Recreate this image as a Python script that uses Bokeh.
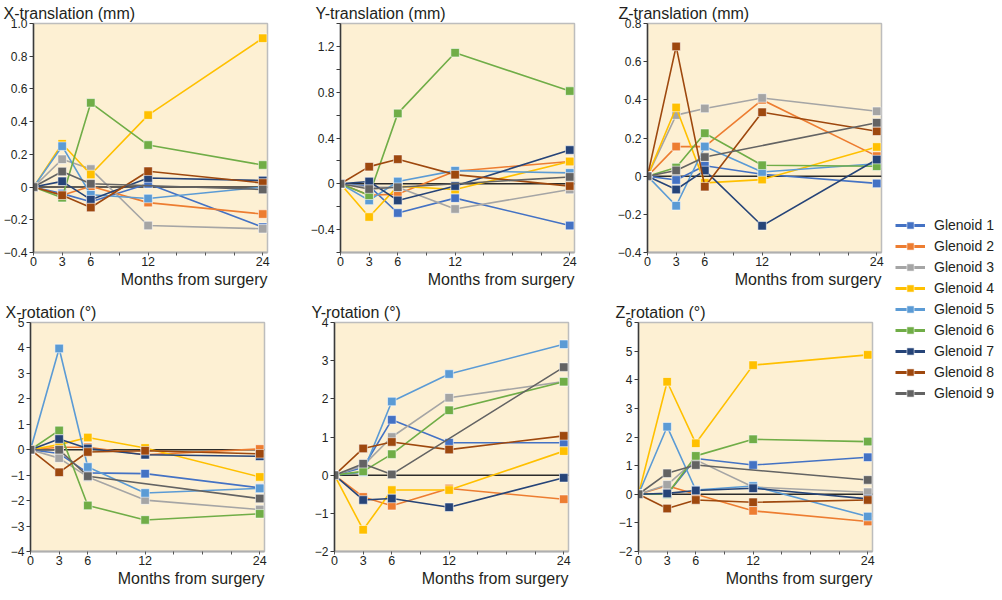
from bokeh.plotting import figure
from bokeh.models import (FixedTicker, Span, Title, Legend, LegendItem, Range1d,
                          CustomJSTickFormatter, ColumnDataSource)
from bokeh.layouts import row, column
from bokeh.embed import file_html
from bokeh.resources import INLINE
import numpy as np

# ---------------- data ----------------
months = [0, 3, 6, 12, 24]
names = ["Glenoid 1", "Glenoid 2", "Glenoid 3", "Glenoid 4", "Glenoid 5",
         "Glenoid 6", "Glenoid 7", "Glenoid 8", "Glenoid 9"]
colors = ["#4472C4", "#ED7D31", "#A5A5A5", "#FFC000", "#5B9BD5",
          "#70AD47", "#264478", "#9E480E", "#636363"]
nan = float("nan")

x_translation = [
    [0, -0.04, -0.09, 0.02, -0.245],
    [0, -0.05, 0.005, -0.095, -0.165],
    [0, 0.17, 0.11, -0.235, -0.255],
    [0, 0.265, 0.077, 0.44, 0.91],
    [0, 0.25, -0.047, -0.07, 0.0],
    [0, -0.065, 0.515, 0.257, 0.135],
    [0, 0.035, -0.077, 0.055, 0.04],
    [0, -0.05, -0.125, 0.097, 0.025],
    [0, 0.095, 0.02, nan, -0.015],
]
y_translation = [
    [0, -0.02, -0.255, -0.125, -0.365],
    [0, -0.1, -0.09, 0.11, 0.195],
    [0, -0.03, -0.03, -0.22, -0.05],
    [0, -0.29, -0.02, -0.05, 0.195],
    [0, -0.145, 0.02, 0.115, 0.095],
    [0, -0.1, 0.615, 1.145, 0.81],
    [0, 0.02, -0.145, -0.02, 0.295],
    [0, 0.15, 0.215, 0.08, -0.02],
    [0, -0.046, -0.03, nan, 0.06],
]
z_translation = [
    [0, -0.02, 0.055, 0.01, -0.038],
    [0, 0.155, 0.155, 0.4, 0.105],
    [0, 0.32, 0.355, 0.41, 0.34],
    [0, 0.36, -0.035, -0.018, 0.153],
    [0, -0.155, 0.155, 0.022, 0.065],
    [0, 0.045, 0.225, 0.057, 0.052],
    [0, -0.07, 0.03, -0.26, 0.087],
    [0, 0.68, -0.055, 0.335, 0.235],
    [0, 0.03, 0.1, nan, 0.28],
]
x_rotation = [
    [0, -0.15, -0.91, -0.94, -1.5],
    [0, 0.1, 0.1, -0.2, 0.03],
    [0, -0.33, -1.07, -1.98, -2.35],
    [0, 0.2, 0.48, 0.07, -1.07],
    [0, 3.98, -0.68, -1.7, -1.52],
    [0, 0.76, -2.19, -2.76, -2.52],
    [0, 0.42, 0.05, -0.2, -0.26],
    [0, -0.89, -0.09, -0.04, -0.16],
    [0, 0.0, -1.04, nan, -1.92],
]
y_rotation = [
    [0, 0.2, 1.45, 0.85, 0.85],
    [0, -0.57, -0.8, -0.35, -0.63],
    [0, 0.25, 1.0, 2.03, 2.45],
    [0, -1.43, -0.39, -0.39, 0.63],
    [0, 0.08, 1.93, 2.65, 3.43],
    [0, 0.1, 0.55, 1.7, 2.45],
    [0, -0.65, -0.61, -0.84, -0.07],
    [0, 0.70, 0.87, 0.67, 1.03],
    [0, 0.30, 0.02, nan, 2.83],
]
z_rotation = [
    [0, 0.0, 1.25, 1.02, 1.29],
    [0, 0.3, 0.0, -0.58, -0.95],
    [0, 0.33, 1.2, 0.25, 0.07],
    [0, 3.93, 1.78, 4.51, 4.87],
    [0, 2.36, 0.15, 0.29, -0.78],
    [0, 0.0, 1.34, 1.92, 1.84],
    [0, 0.03, 0.13, 0.21, -0.16],
    [0, -0.5, -0.2, -0.28, -0.2],
    [0, 0.73, 1.02, nan, 0.5],
]

x_ticks = [0, 3, 6, 9, 12, 15, 18, 21, 24]
x_tick_labels = ["0", "3", "6", "", "12", "", "", "", "24"]

xt_ticks = [-0.4, -0.2, 0, 0.2, 0.4, 0.6, 0.8, 1.0]
xt_labels = ["\u22120.4", "\u22120.2", "0", "0.2", "0.4", "0.6", "0.8", "1.0"]
yt_ticks = [-0.6, -0.4, -0.2, 0, 0.2, 0.4, 0.6, 0.8, 1.0, 1.2, 1.4]
yt_labels = ["", "\u22120.4", "", "0", "", "0.4", "", "0.8", "", "1.2", ""]
zt_ticks = [-0.4, -0.2, 0, 0.2, 0.4, 0.6, 0.8]
zt_labels = ["\u22120.4", "\u22120.2", "0", "0.2", "0.4", "0.6", "0.8"]
xr_ticks = [-4, -3, -2, -1, 0, 1, 2, 3, 4, 5]
xr_labels = ["\u22124", "\u22123", "\u22122", "\u22121", "0", "1", "2", "3", "4", "5"]
yr_ticks = [-2, -1, 0, 1, 2, 3, 4]
yr_labels = ["\u22122", "\u22121", "0", "1", "2", "3", "4"]
zr_ticks = [-2, -1, 0, 1, 2, 3, 4, 5, 6]
zr_labels = ["\u22122", "\u22121", "0", "1", "2", "3", "4", "5", "6"]

# ---------------- styling ----------------
FONT = "Liberation Sans"
TXT = "#231F20"
BG = "#FDF0D3"
FW = 234
FH = 229


def lookup_formatter(tvals, tlabels):
    return CustomJSTickFormatter(args=dict(tv=tvals, tl=tlabels), code="""
        for (let i = 0; i < tv.length; i++) {
            if (Math.abs(tick - tv[i]) < 1e-9) { return tl[i]; }
        }
        return "";
    """)


def panel(title, data, yticks, ylabels, title_offset, top, bottom, right):
    p = figure(frame_width=FW, frame_height=FH,
               x_range=Range1d(0, 24.5), y_range=Range1d(yticks[0], yticks[-1]),
               output_backend="svg", toolbar_location=None,
               min_border_left=30, min_border_right=right,
               min_border_top=top, min_border_bottom=bottom)
    p.background_fill_color = BG
    p.border_fill_color = "white"
    p.outline_line_color = "#BDBDBD"
    p.outline_line_width = 1.5
    p.grid.visible = False

    p.title.text = title
    p.title.text_font = FONT
    p.title.text_font_size = "16px"
    p.title.text_font_style = "normal"
    p.title.text_color = TXT
    p.title.align = "left"
    p.title.offset = title_offset
    p.title.standoff = 4

    xa = p.xaxis[0]
    xa.ticker = FixedTicker(ticks=x_ticks)
    xa.formatter = lookup_formatter(x_ticks, x_tick_labels)
    xa.axis_line_color = "#AFAFAF"
    xa.axis_line_width = 2
    xa.major_tick_line_color = "#555555"
    xa.major_tick_out = 3
    xa.major_tick_in = 0
    xa.minor_tick_line_color = None
    xa.major_label_standoff = 1
    xa.major_label_text_font = FONT
    xa.major_label_text_font_size = "12.5px"
    xa.major_label_text_color = TXT

    ya = p.yaxis[0]
    ya.ticker = FixedTicker(ticks=yticks)
    ya.formatter = lookup_formatter(yticks, ylabels)
    ya.axis_line_color = "#3A3A3A"
    ya.axis_line_width = 1.5
    ya.major_tick_line_color = "#3A3A3A"
    ya.major_tick_out = 4
    ya.major_tick_in = 0
    ya.minor_tick_line_color = None
    ya.major_label_standoff = 2
    ya.major_label_text_font = FONT
    ya.major_label_text_font_size = "12px"
    ya.major_label_text_color = TXT

    p.add_layout(Title(text="Months from surgery", align="right", text_font=FONT,
                       text_font_size="16px", text_font_style="normal",
                       text_color=TXT, standoff=0), "below")

    p.add_layout(Span(location=0, dimension="width", line_color="#2B2B2B",
                      line_width=1.5, level="underlay"))

    for vals, c in zip(data, colors):
        arr = np.array(vals, dtype=float)
        ok = ~np.isnan(arr)
        src = ColumnDataSource(dict(x=np.array(months, dtype=float)[ok], y=arr[ok]))
        p.line("x", "y", source=src, line_color=c, line_width=1.6)
        p.scatter("x", "y", source=src, marker="square", size=8.5,
                  fill_color=c, line_color="white", line_alpha=0.55, line_width=1)
    return p


p1 = panel("X-translation (mm)", x_translation, xt_ticks, xt_labels, -30, 20, 47, 40)
p2 = panel("Y-translation (mm)", y_translation, yt_ticks, yt_labels, -25, 20, 47, 40)
p3 = panel("Z-translation (mm)", z_translation, zt_ticks, zt_labels, -29, 20, 47, 8)
p4 = panel("X-rotation (\u00b0)", x_rotation, xr_ticks, xr_labels, -25, 22, 37, 40)
p5 = panel("Y-rotation (\u00b0)", y_rotation, yr_ticks, yr_labels, -23, 22, 37, 40)
p6 = panel("Z-rotation (\u00b0)", z_rotation, zr_ticks, zr_labels, -23, 22, 37, 8)

# legend figure (legend-only renderers carry no visible point)
lf = figure(width=106, height=584, x_range=Range1d(0, 1), y_range=Range1d(0, 1),
            output_backend="svg", toolbar_location=None, min_border=0)
lf.axis.visible = False
lf.grid.visible = False
lf.outline_line_color = None
items = []
for n, c in zip(names, colors):
    r1 = lf.line(x=[nan], y=[nan], line_color=c, line_width=3)
    r2 = lf.scatter(x=[nan], y=[nan], marker="square", size=8, fill_color=c,
                    line_color="white", line_alpha=0.55)
    items.append(LegendItem(label=n, renderers=[r1, r2]))
leg = Legend(items=items, location=(6, 182), border_line_color=None,
             background_fill_alpha=0, label_text_font=FONT, label_text_font_size="14px",
             label_text_color=TXT, glyph_width=30, glyph_height=18, label_height=18,
             spacing=3, padding=2, margin=0, label_standoff=9)
lf.add_layout(leg)

layout = row(column(row(p1, p2, p3), row(p4, p5, p6)), lf)

open("out.html", "w").write(file_html(layout, INLINE))
